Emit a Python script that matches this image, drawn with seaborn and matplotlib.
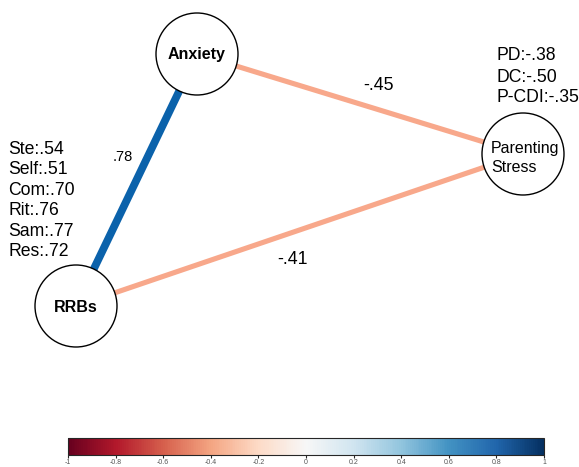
import numpy as np
import pandas as pd
import matplotlib
matplotlib.use("Agg")
import matplotlib.pyplot as plt
from matplotlib.patches import Circle
import seaborn as sns

# Nodes of the network and their positions (pixel space of the original figure)
nodes = ["Anxiety", "RRBs", "Parenting\nStress"]
node_x = [197, 76, 523]
node_y = [54, 306, 154]
node_bold = [True, True, False]
node_fs = [11.5, 11.5, 11.5]

# Edges: (from, to, weight)
edge_from = ["Anxiety", "Anxiety", "RRBs"]
edge_to = ["RRBs", "Parenting\nStress", "Parenting\nStress"]
edge_weight = [0.78, -0.45, -0.41]
edge_labels = [".78", "-.45", "-.41"]

# Loadings shown next to the nodes
rrbs_loadings = ["Ste:.54", "Self:.51", "Com:.70", "Rit:.76", "Sam:.77", "Res:.72"]
ps_loadings = ["PD:-.38", "DC:-.50", "P-CDI:-.35"]

cbar_ticks = [-1, -0.8, -0.6, -0.4, -0.2, 0, 0.2, 0.4, 0.6, 0.8, 1]

sns.set_style("white")
plt.rcParams['font.family'] = ['Liberation Sans', 'DejaVu Sans']
plt.rcParams['text.color'] = 'black'

W, H = 579, 467
fig = plt.figure(figsize=(W / 100, H / 100), dpi=100)
ax = fig.add_axes([0, 0, 1, 1])

cmap = sns.color_palette("RdBu", as_cmap=True)
pos = {n: (x, y) for n, x, y in zip(nodes, node_x, node_y)}

# positive edges blue, negative edges salmon (as in the qgraph output)
edges = pd.DataFrame({"src": edge_from, "dst": edge_to, "w": edge_weight})
for i, row in edges.iterrows():
    (x0, y0), (x1, y1) = pos[row.src], pos[row.dst]
    seg = pd.DataFrame({"x": [x0, x1], "y": [y0, y1]})
    col = "#0b62ab" if row.w > 0 else "#f8a88b"
    lw = 5.6 if abs(row.w) > 0.6 else 3.7
    sns.lineplot(data=seg, x="x", y="y", ax=ax, sort=False,
                 color=col, linewidth=lw, solid_capstyle="butt", zorder=1)
ax.set_xlim(0, W)
ax.set_ylim(H, 0)
ax.axis("off")

# node circles
for n, x, y, b, fs in zip(nodes, node_x, node_y, node_bold, node_fs):
    ax.add_patch(Circle((x, y), 41, facecolor="white", edgecolor="black",
                        linewidth=1.0, zorder=3))
    if b:
        ax.text(x, y + 1, n, ha="center", va="center", fontsize=fs,
                fontweight="bold", zorder=4)
    else:
        ax.text(x - 32, y + 4, n, ha="left", va="center", fontsize=fs,
                linespacing=1.3, zorder=4)

# edge labels
ax.text(123, 157, edge_labels[0], ha="center", va="center", fontsize=10.5)
ax.text(378, 86, edge_labels[1], ha="center", va="center", fontsize=12.8)
ax.text(292, 260, edge_labels[2], ha="center", va="center", fontsize=12.8)

# loading blocks
for k, t in enumerate(rrbs_loadings):
    ax.text(8, 149 + k * 20.6, t, ha="left", va="center", fontsize=12.7)
for k, t in enumerate(ps_loadings):
    ax.text(497, 56 + k * 21, t, ha="left", va="center", fontsize=12.7)

# colorbar
cax = fig.add_axes([68 / W, 1 - 455 / H, (544 - 68) / W, 17 / H])
sm = plt.cm.ScalarMappable(cmap=cmap, norm=plt.Normalize(-1, 1))
cb = fig.colorbar(sm, cax=cax, orientation="horizontal")
cb.set_ticks(cbar_ticks)
cb.set_ticklabels([f"{t:g}" for t in cbar_ticks])
cb.outline.set_linewidth(0.8)
cax.tick_params(axis="x", direction="out", length=2.5, width=0.8, pad=0.5,
                labelsize=5, labelcolor="#555555", bottom=True)

fig.savefig("out.png", dpi=100)
